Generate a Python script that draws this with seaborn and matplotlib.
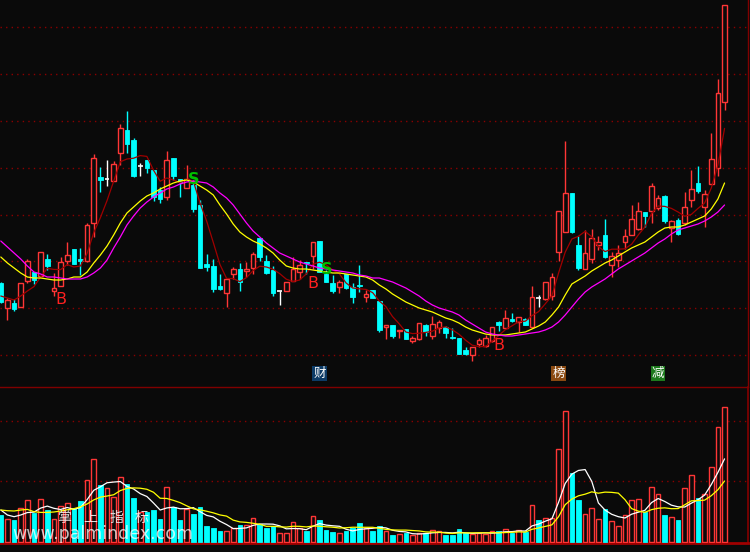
import numpy as np
import pandas as pd
import matplotlib
matplotlib.use("Agg")
import matplotlib.pyplot as plt
import matplotlib.transforms as mtransforms
import seaborn as sns

# OHLC (screen price scale, the original shows no axis labels)
open_ = [117, 92, 97, 93, 119, 128, 124, 141, 109, 114,
         139, 151, 141, 139, 177, 223, 221, 219, 247, 270,
         260, 234, 240, 230, 210, 203, 242, 221, 212, 215,
         195, 136, 134, 114, 107, 126, 131, 129, 132, 162,
         139, 130, 109, 109, 119, 128, 138, 144, 159, 126,
         117, 113, 126, 113, 115, 103, 110, 99, 73, 75,
         69, 71, 59, 61, 75, 64, 72, 73, 63, 62,
         50, 45, 56, 54, 59, 78, 72, 81, 78, 81,
         73, 102, 101, 104, 148, 168, 207, 155, 131, 141,
         155, 165, 135, 140, 158, 165, 171, 188, 189, 192,
         204, 172, 180, 177, 200, 217, 193, 216, 232, 298]
high = [118, 102, 101, 117, 141, 128, 148, 146, 127, 143,
        158, 151, 152, 177, 246, 233, 240, 239, 276, 289,
        262, 237, 240, 230, 213, 249, 242, 221, 235, 220,
        200, 146, 141, 126, 121, 133, 137, 138, 148, 162,
        145, 134, 109, 118, 143, 140, 138, 158, 159, 130,
        125, 120, 126, 117, 135, 110, 110, 99, 75, 75,
        70, 71, 64, 77, 76, 84, 80, 74, 72, 62,
        53, 53, 62, 65, 73, 79, 90, 87, 83, 82,
        114, 105, 118, 127, 189, 259, 207, 164, 170, 171,
        164, 181, 148, 155, 171, 195, 198, 188, 217, 205,
        205, 180, 182, 208, 230, 234, 210, 267, 321, 395]
low = [97, 80, 89, 93, 117, 116, 124, 130, 104, 114,
       135, 136, 125, 138, 163, 208, 214, 219, 235, 247,
       223, 224, 227, 199, 197, 200, 220, 203, 212, 188,
       132, 129, 108, 110, 93, 121, 109, 123, 126, 139,
       126, 104, 95, 109, 119, 121, 126, 131, 128, 118,
       107, 107, 111, 97, 108, 98, 102, 68, 61, 62,
       62, 61, 57, 60, 64, 61, 67, 62, 61, 46,
       45, 39, 53, 53, 58, 69, 72, 78, 68, 75,
       72, 93, 100, 100, 139, 168, 167, 130, 131, 137,
       150, 142, 123, 133, 151, 165, 170, 173, 177, 190,
       177, 158, 165, 175, 193, 207, 173, 216, 224, 290]
close = [98, 100, 91, 117, 139, 120, 148, 134, 112, 138,
         145, 136, 139, 175, 242, 220, 221, 236, 272, 256,
         224, 234, 232, 203, 201, 240, 224, 218, 221, 191,
         132, 133, 111, 111, 121, 131, 118, 131, 146, 143,
         127, 107, 109, 118, 131, 135, 137, 158, 128, 118,
         109, 118, 112, 103, 114, 106, 102, 70, 75, 64,
         70, 61, 62, 77, 68, 76, 78, 67, 62, 46,
         46, 53, 60, 62, 73, 75, 82, 79, 83, 75,
         103, 102, 118, 123, 189, 207, 168, 132, 147, 162,
         158, 143, 144, 147, 164, 181, 189, 184, 214, 202,
         179, 179, 166, 193, 211, 209, 206, 241, 307, 395]
volume = [26.7, 22.3, 21.7, 33.3, 41.7, 29, 42.3, 31.7, 22.3, 35.7,
          39, 33.3, 40.7, 61.7, 82.3, 56.7, 53.3, 44.3, 64.3, 57.7,
          44, 30, 30, 31.7, 22.7, 54.3, 34.3, 21.7, 32.3, 27.7,
          34.3, 15.7, 14, 10.7, 11, 14, 16.7, 16.7, 23.3, 17.7,
          14, 16, 8.3, 8.3, 19.3, 13.3, 10.7, 25.7, 21.7, 11.7,
          9.7, 8.3, 11, 13.3, 18.7, 13.3, 10.7, 15.7, 10.7, 6.7,
          7.7, 8.3, 6.7, 9, 9, 11.3, 10.3, 6.7, 6.7, 12.3,
          8.3, 7.7, 8.3, 7.7, 10.7, 10.7, 12.3, 9, 11.3, 10,
          36.3, 21.7, 23.3, 23.3, 92.3, 130.7, 68.3, 41.7, 27.7, 33.3,
          22.7, 32.7, 20.7, 15.7, 26.7, 41.7, 42.7, 30, 54.3, 47.3,
          26.7, 24.3, 21.7, 53.3, 66.7, 44, 47.3, 74.3, 114.3, 134.3]

# the two slow average lines
line_yellow = [143, 137, 132, 127, 123, 122, 122, 121, 120, 120,
               121, 123, 123, 128, 137, 145, 154, 165, 177, 187,
               193, 199, 204, 207, 211, 214, 217, 219, 220, 218,
               214, 210, 205, 195, 186, 176, 168, 163, 159, 156,
               152, 147, 140, 134, 132, 131, 131, 130, 129, 128,
               127, 127, 126, 125, 124, 123, 120, 115, 111, 106,
               102, 98, 95, 92, 90, 88, 85, 82, 80, 77,
               73, 70, 68, 66, 65, 65, 65, 66, 67, 68,
               71, 74, 78, 85, 93, 105, 116, 120, 124, 129,
               133, 137, 140, 144, 148, 152, 155, 158, 163, 168,
               172, 173, 173, 175, 178, 181, 184, 191, 201, 217]
line_magenta = [159, 153, 147, 141, 134, 128, 126, 123, 123, 122,
                121, 121, 121, 123, 127, 132, 140, 152, 163, 175,
                184, 192, 198, 203, 207, 211, 213, 216, 218, 219,
                218, 217, 213, 207, 202, 195, 186, 177, 169, 163,
                157, 152, 147, 144, 141, 138, 136, 134, 132, 131,
                130, 129, 128, 127, 125, 124, 122, 122, 120, 118,
                115, 112, 108, 104, 99, 95, 92, 90, 88, 85,
                80, 76, 72, 68, 66, 65, 64, 64, 65, 66,
                67, 68, 70, 73, 78, 85, 93, 101, 108, 113,
                117, 121, 126, 131, 135, 139, 143, 147, 152, 157,
                161, 166, 170, 172, 174, 176, 179, 183, 188, 195]

# moving average values at the left edge (history before the first bar not shown)
ma5_head = [104, 102, 100, 104]
vma5_head = [31.7, 26.7, 25, 26.7]
vma10_head = [31.7, 31, 30.7, 31.7, 32.3, 30, 29.3, 29.3, 29.7]

buy_bars = [9, 47, 75]
sell_bars = [29, 49]
tags = ["财", "榜", "减"]
tag_bars = [48, 84, 99]
tag_colors = ["#0d3b66", "#8a4a12", "#1d7a1d"]
grid_main = [373.0, 326.1, 279.3, 232.4, 185.5, 138.6, 91.7, 44.8]
grid_vol = [60.4, 121.0]

BG = "#0a0a0a"
RED = "#ff3636"
CYAN = "#00ffff"
GRIDC = "#8b0000"

df = pd.DataFrame({"open": open_, "high": high, "low": low,
                   "close": close, "volume": volume,
                   "yellow": line_yellow, "magenta": line_magenta})
df["idx"] = np.arange(len(df))


def with_head(s, head):
    s = s.copy()
    s.iloc[:len(head)] = head
    return s


df["ma5"] = with_head(df["close"].rolling(5).mean(), ma5_head)
df["vma5"] = with_head(df["volume"].rolling(5).mean(), vma5_head)
df["vma10"] = with_head(df["volume"].rolling(10).mean(), vma10_head)

up = df["close"] > df["open"]
doji = df["close"] == df["open"]
vol_up = up | (doji & (df["close"] >= df["close"].shift(1).fillna(0)))

sns.set_theme(style="dark", rc={"axes.facecolor": BG, "figure.facecolor": BG})
plt.rcParams["font.family"] = ["DejaVu Sans", "Noto Sans CJK SC"]

fig = plt.figure(figsize=(7.5, 5.52), dpi=100)
ax = fig.add_axes([0, 1 - 387 / 552, 748 / 750, 387 / 552])
axv = fig.add_axes([0, 1 - 543 / 552, 748 / 750, 156 / 552])

xlim = (-0.12, 112.53)
W = 0.7

# price panel
for y in grid_main:
    ax.axhline(y, color=GRIDC, lw=1, ls=(0, (1, 3)), zorder=1)

wick_col = np.where(doji, "white", np.where(up, RED, CYAN))
ax.vlines(df["idx"], df["low"], df["high"], colors=wick_col, lw=1, zorder=2)

body_lo = df[["open", "close"]].min(axis=1)
body_h = (df["close"] - df["open"]).abs()
nd = ~doji
ax.bar(df["idx"][nd & up], body_h[nd & up], bottom=body_lo[nd & up], width=W,
       facecolor=BG, edgecolor=RED, linewidth=1, zorder=3)
ax.bar(df["idx"][nd & ~up], body_h[nd & ~up], bottom=body_lo[nd & ~up], width=W,
       facecolor=CYAN, edgecolor=CYAN, linewidth=0.6, zorder=3)
ax.hlines(df["close"][doji], df["idx"][doji] - W / 2, df["idx"][doji] + W / 2,
          colors="white", lw=1.2, zorder=3)

sns.lineplot(data=df, x="idx", y="ma5", ax=ax, color="#a00000", lw=0.9, zorder=4)
sns.lineplot(data=df, x="idx", y="yellow", ax=ax, color="#ffff00", lw=0.9, zorder=4)
sns.lineplot(data=df, x="idx", y="magenta", ax=ax, color="#ff00ff", lw=0.9, zorder=4)

for i in buy_bars:
    ax.text(i, df["low"][i] - 14, "B", color="#ff2020", fontsize=11.5,
            ha="center", va="center", zorder=5)
for i in sell_bars:
    ax.text(i, df["high"][i] + 1, "S", color="#00c000", fontsize=11.5,
            fontweight="bold", ha="center", va="center", zorder=5)

tr = mtransforms.blended_transform_factory(ax.transData, ax.transAxes)
for t, i, c in zip(tags, tag_bars, tag_colors):
    ax.text(i, 0.018, t, transform=tr, color="white", fontsize=9,
            family=["Noto Sans CJK SC", "DejaVu Sans"], ha="center", va="bottom",
            bbox=dict(boxstyle="square,pad=0.08", fc=c, ec="none"), zorder=6)

ax.set_xlim(*xlim)
ax.set_ylim(13, 400)
ax.set_xlabel("")
ax.set_ylabel("")
ax.set_xticks([])
ax.set_yticks([])
for s in ["top", "left", "bottom"]:
    ax.spines[s].set_visible(False)
ax.spines["right"].set_color("#800000")
ax.spines["right"].set_linewidth(1)

# volume panel
for y in grid_vol:
    axv.axhline(y, color=GRIDC, lw=1, ls=(0, (1, 3)), zorder=1)

axv.bar(df["idx"][vol_up], df["volume"][vol_up], width=W, facecolor=BG,
        edgecolor=RED, linewidth=1, zorder=3)
axv.bar(df["idx"][~vol_up], df["volume"][~vol_up], width=W, facecolor=CYAN,
        edgecolor=CYAN, linewidth=0.6, zorder=3)
sns.lineplot(data=df, x="idx", y="vma5", ax=axv, color="white", lw=0.9, zorder=4)
sns.lineplot(data=df, x="idx", y="vma10", ax=axv, color="#ffff00", lw=0.9, zorder=4)

axv.set_xlim(*xlim)
axv.set_ylim(-1.3, 154.7)
axv.set_xlabel("")
axv.set_ylabel("")
axv.set_xticks([])
axv.set_yticks([])
axv.spines["left"].set_visible(False)
axv.spines["top"].set_color("#800000")
axv.spines["top"].set_linewidth(1)
axv.spines["right"].set_color("#800000")
axv.spines["bottom"].set_color("#a00000")
axv.spines["bottom"].set_linewidth(2)

# watermark
for k, ch in enumerate(["掌", "上", "指", "标"]):
    fig.text((64 + 26 * k) / 750, 1 - 518 / 552, ch, color="white", alpha=0.85,
             fontsize=10, family=["Noto Sans CJK SC", "DejaVu Sans"],
             ha="center", va="center")
fig.text(103 / 750, 1 - 534 / 552, "www.palmindex.com", color="white", alpha=0.75,
         fontsize=12.5, ha="center", va="center")

fig.savefig("out.png", dpi=100, facecolor=BG)
